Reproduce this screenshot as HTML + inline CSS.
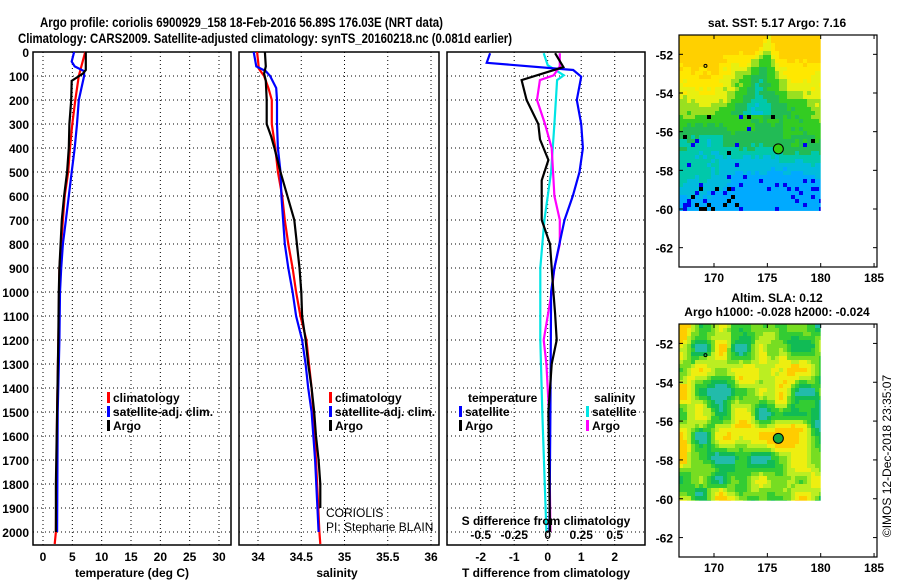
<!DOCTYPE html>
<html><head><meta charset="utf-8"><style>
html,body{margin:0;padding:0;background:#fff;}
svg{display:block;font-family:"Liberation Sans",sans-serif;}
</style></head><body>
<svg id="chart" width="900" height="580" viewBox="0 0 900 580" xmlns="http://www.w3.org/2000/svg">
<text x="40" y="27" font-size="14" font-weight="bold" textLength="403" lengthAdjust="spacingAndGlyphs">Argo profile: coriolis 6900929_158 18-Feb-2016 56.89S 176.03E (NRT data)</text>
<text x="18" y="43" font-size="14" font-weight="bold" textLength="494" lengthAdjust="spacingAndGlyphs">Climatology: CARS2009. Satellite-adjusted climatology: synTS_20160218.nc (0.081d earlier)</text>
<g id="plots"></g>
</svg>
<script>
// ---------- data ----------
const depthTicks = [0,100,200,300,400,500,600,700,800,900,1000,1100,1200,1300,1400,1500,1600,1700,1800,1900,2000];
const tempTicks = [0,5,10,15,20,25,30];
const salTicks = [34,34.5,35,35.5,36];
const tdiffTicks = [-2,-1,0,1,2];
const sdiffTickLabels = ["-0.5","-0.25","0","0.25","0.5"];
const sdiffTicks = [-0.5,-0.25,0,0.25,0.5];

const tArgoDepth = [0,75,90,120,200,300,400,500,600,700,800,900,1000,1200,1500,1800,2000];
const tArgoVal   = [7.3,7.3,6.8,4.9,4.8,4.5,4.4,4.1,3.6,3.2,3.0,2.8,2.7,2.6,2.4,2.2,2.2];
const tClimDepth = [0,100,200,300,400,500,600,700,800,900,1100,1500,2000,2050];
const tClimVal   = [7.2,6.1,5.5,5.0,4.6,4.3,3.7,3.4,3.1,2.8,2.7,2.4,2.2,2.0];
const tSatDepth  = [0,40,60,80,100,200,300,400,500,600,700,800,900,1000,1200,1500,2000];
const tSatVal    = [5.3,4.9,5.4,7.0,7.0,6.1,5.8,5.4,4.9,4.4,3.9,3.4,3.1,2.9,2.8,2.5,2.4];

const sArgoDepth = [0,60,90,120,200,300,350,400,500,600,700,800,900,1000,1100,1200,1300,1400,1500,1600,1700,1800,1900];
const sArgoVal   = [34.08,34.09,34.07,34.09,34.10,34.10,34.15,34.19,34.26,34.34,34.42,34.45,34.48,34.50,34.51,34.55,34.58,34.62,34.65,34.67,34.70,34.72,34.72];
const sClimDepth = [0,70,100,150,200,300,400,500,600,700,800,900,1000,1100,1200,1300,1400,1500,1700,2000,2050];
const sClimVal   = [33.99,34.01,34.07,34.12,34.16,34.16,34.20,34.23,34.28,34.31,34.35,34.40,34.44,34.49,34.56,34.59,34.62,34.64,34.67,34.71,34.72];
const sSatDepth  = [0,60,80,100,150,200,300,400,500,600,700,800,900,1000,1100,1200,1300,1400,1500,1700,2000];
const sSatVal    = [33.95,33.98,34.09,34.14,34.21,34.22,34.22,34.23,34.26,34.27,34.29,34.31,34.35,34.40,34.44,34.51,34.55,34.58,34.62,34.66,34.70];

const dTSatDepth = [5,45,75,103,200,300,400,500,600,700,800,900,1000,1500,2000];
const dTSatVal   = [-1.72,-1.82,0.76,1.0,0.87,1.0,1.05,0.95,0.75,0.5,0.35,0.2,0.1,0.08,0.05];
const dTArgoDepth = [5,63,117,200,300,364,450,535,700,800,1000,1090,1200,1300,1500,2000];
const dTArgoVal   = [0.22,0.47,-0.78,-0.63,-0.28,-0.23,0.02,-0.18,-0.18,0.07,0.17,0.22,0.27,0.12,0.02,0.07];
const dSSatDepth = [5,55,97,117,300,500,700,900,1200,1500,2000];
const dSSatVal   = [-0.03,0.0,0.12,0.07,0.05,0.025,-0.025,-0.055,-0.055,-0.04,-0.01];
const dSArgoDepth = [5,60,97,117,200,300,400,600,700,800,900,1000,1200,1300,1500,2000];
const dSArgoVal   = [0.09,0.09,0.045,-0.058,-0.08,-0.02,0.03,0.05,0.09,0.09,0.05,0.03,-0.03,-0.01,0.01,0.02];

const latTicks = [-52,-54,-56,-58,-60,-62];
const lonTicks = [170,175,180,185];
const argoLon = 176.03, argoLat = -56.89;

// ---------- helpers ----------
const NS="http://www.w3.org/2000/svg";
const root=document.getElementById('plots');
function mk(tag,attrs,parent,txt){const e=document.createElementNS(NS,tag);for(const k in attrs)e.setAttribute(k,attrs[k]);if(txt!==undefined)e.textContent=txt;(parent||root).appendChild(e);return e;}
const yD = d => 52 + d*0.24;
const P1={l:33,r:231,xs:v=>43+v*(176/30)};
const P2={l:239,r:439,xs:v=>258+(v-34)*86.5};
const P3={l:447,r:645,xs:v=>547.7+v*33.5};
const sdX = v => P3.xs(v*4);
const TOP=52,BOT=545;

function panel(P,ticks,xf,name){
  const g=mk('g',{});
  
  
  depthTicks.forEach(d=>{const y=yD(d);
    const l=mk('line',{x1:P.l,x2:P.r,y1:y,y2:y,stroke:'#000','stroke-width':1,'stroke-dasharray':'1,3'},g);
    
    
  });
  ticks.forEach(t=>{const x=xf(t);
    const l=mk('line',{x1:x,x2:x,y1:TOP,y2:BOT,stroke:'#000','stroke-width':1,'stroke-dasharray':'1,3'},g);
    
    
  });
  const r=mk('rect',{x:P.l,y:TOP,width:P.r-P.l,height:BOT-TOP,fill:'none',stroke:'#000','stroke-width':1.5},g);
  
  
  return g;
}
function line(depths,vals,xf,color,name,g){
  const pts=depths.map((d,i)=>xf(vals[i]).toFixed(1)+','+yD(d).toFixed(1)).join(' ');
  const p=mk('polyline',{points:pts,fill:'none',stroke:color,'stroke-width':2.2},g);
  
  
}
function txt(x,y,s,opts,name){
  const t=mk('text',Object.assign({x:x,y:y,'font-size':12,'font-weight':'bold'},opts||{}),root,s);
  
  
  return t;
}
function legend(x,y,color,label,name){
  const m=mk('rect',{x:x,y:y-10,width:3,height:11,fill:color});
  
  
  txt(x+6,y,label,{},name);
}

// ---------- panel 1 temperature ----------
const g1=panel(P1,tempTicks,P1.xs,'temperature-panel');
line(tClimDepth,tClimVal,P1.xs,'#ff0000','temp-climatology-line',g1);
line(tSatDepth,tSatVal,P1.xs,'#0000ff','temp-satellite-line',g1);
line(tArgoDepth,tArgoVal,P1.xs,'#000000','temp-argo-line',g1);
depthTicks.forEach(d=>txt(29,yD(d)+5,String(d),{'text-anchor':'end'},'depth-tick-label'));
tempTicks.forEach(t=>txt(P1.xs(t),561,String(t),{'text-anchor':'middle'},'temp-tick-label'));
txt(132,577,'temperature (deg C)',{'text-anchor':'middle'},'temperature-axis-title');
legend(107,402,'#ff0000','climatology','legend-climatology');
legend(107,416,'#0000ff','satellite-adj. clim.','legend-satellite-adj');
legend(107,430,'#000000','Argo','legend-argo');

// ---------- panel 2 salinity ----------
const g2=panel(P2,salTicks,P2.xs,'salinity-panel');
line(sClimDepth,sClimVal,P2.xs,'#ff0000','sal-climatology-line',g2);
line(sSatDepth,sSatVal,P2.xs,'#0000ff','sal-satellite-line',g2);
line(sArgoDepth,sArgoVal,P2.xs,'#000000','sal-argo-line',g2);
salTicks.forEach(t=>txt(P2.xs(t),561,String(t),{'text-anchor':'middle'},'sal-tick-label'));
txt(337,577,'salinity',{'text-anchor':'middle'},'salinity-axis-title');
legend(329,402,'#ff0000','climatology','legend-sal-climatology');
legend(329,416,'#0000ff','satellite-adj. clim.','legend-sal-satellite-adj');
legend(329,430,'#000000','Argo','legend-sal-argo');
txt(326,517,'CORIOLIS',{'font-weight':'normal','font-size':12},'data-centre-label');
txt(326,531,'PI: Stephane BLAIN',{'font-weight':'normal','font-size':12},'pi-label');

// ---------- panel 3 differences ----------
const g3=panel(P3,tdiffTicks,P3.xs,'difference-panel');
line(dSSatDepth,dSSatVal,sdX,'#00e5e5','sdiff-satellite-line',g3);
line(dSArgoDepth,dSArgoVal,sdX,'#ff00ff','sdiff-argo-line',g3);
line(dTSatDepth,dTSatVal,P3.xs,'#0000ff','tdiff-satellite-line',g3);
line(dTArgoDepth,dTArgoVal,P3.xs,'#000000','tdiff-argo-line',g3);
tdiffTicks.forEach(t=>txt(P3.xs(t),561,String(t),{'text-anchor':'middle'},'tdiff-tick-label'));
txt(546,577,'T difference from climatology',{'text-anchor':'middle'},'tdiff-axis-title');
txt(546,525,'S difference from climatology',{'text-anchor':'middle'},'sdiff-axis-title');
sdiffTicks.forEach((t,i)=>txt(sdX(t),539,sdiffTickLabels[i],{'text-anchor':'middle'},'sdiff-tick-label'));
txt(468,402,'temperature',{},'legend-temperature-heading');
txt(594,402,'salinity',{},'legend-salinity-heading');
legend(459,416,'#0000ff','satellite','legend-tdiff-satellite');
legend(459,430,'#000000','Argo','legend-tdiff-argo');
legend(586,416,'#00e5e5','satellite','legend-sdiff-satellite');
legend(586,430,'#ff00ff','Argo','legend-sdiff-argo');

// ---------- maps ----------
function hash(i,j,s){let h=(i*374761393+j*668265263+s*982451653)|0;h=(h^(h>>>13))*1274126177|0;h=h^(h>>>16);return ((h>>>0)%1000)/1000;}
function noise(x,y,s){const i=Math.floor(x),j=Math.floor(y),fx=x-i,fy=y-j;
  const u=fx*fx*(3-2*fx),v=fy*fy*(3-2*fy);
  const a=hash(i,j,s),b=hash(i+1,j,s),c=hash(i,j+1,s),d=hash(i+1,j+1,s);
  return a+(b-a)*u+(c-a)*v+(a-b-c+d)*u*v;}
function map(top,bot,latTop,kind,name){
  const L=679,R=877;
  const xs=lon=>714+(lon-170)*10.67;
  const ys=lat=>top+(latTop-lat)*((bot-top)/(latTop+63));
  const g=mk('g',{});
  
  
  const x0=L,x1=xs(180),y0=top,y1=ys(-60.1);
  const cs=4;
  for(let j=0;y0+j*cs<y1;j++)for(let i=0;x0+i*cs<x1;i++){
    const fy=j*cs/(y1-y0), fx=i*cs/(x1-x0);
    let c;
    const r=hash(i,j,7);
    if(kind==='sst'){
      let t=fy+0.22*(noise(fx*5,fy*5,3)-0.5)+0.08*(r-0.5);
      const cx=0.62-0.25*fy, w=0.04+0.5*fy;
      if(fy<0.45&&Math.abs(fx-cx)<w) t+=0.3*(1-Math.abs(fx-cx)/w);
      if(fx>0.75&&fy<0.35) t-=0.05;
      c=t<0.12?'#ffd000':t<0.22?'#ffe800':t<0.3?'#e8f010':t<0.38?'#99e020':t<0.5?'#33cc22':t<0.62?'#22bb55':t<0.72?'#00c8aa':t<0.85?'#00bbdd':'#00aaff';
      if(fy>0.78&&r<0.08)c='#0000ee';
      if(fy>0.85&&fx<0.4&&r<0.25)c=r<0.12?'#000000':'#0000ee';
      if(fy>0.45&&fy<0.75&&r<0.03)c=r<0.015?'#000000':'#0000ee';
    }else{
      const v=noise(fx*7,fy*8,5)*0.75+noise(fx*14,fy*16,9)*0.25+0.04*(r-0.5);
      c=v>0.72?'#ffcc00':v>0.6?'#eeee10':v>0.5?'#bbee22':v>0.4?'#77dd22':v>0.3?'#33cc33':v>0.2?'#11bb55':'#22bbaa';
    }
    mk('rect',{x:x0+i*cs,y:y0+j*cs,width:Math.min(cs,x1-x0-i*cs),height:Math.min(cs,y1-y0-j*cs),fill:c},g);
  }
  const fr=mk('rect',{x:L,y:top,width:R-L,height:bot-top,fill:'none',stroke:'#000','stroke-width':1.2},g);
  
  
  latTicks.forEach(t=>{const y=ys(t);
    mk('line',{x1:L,x2:L+4,y1:y,y2:y,stroke:'#000'},g);mk('line',{x1:R-4,x2:R,y1:y,y2:y,stroke:'#000'},g);
    txt(673,y+5,String(t),{'text-anchor':'end'},'lat-tick-label');});
  lonTicks.forEach(t=>{const x=xs(t);
    mk('line',{x1:x,x2:x,y1:top,y2:top+4,stroke:'#000'},g);mk('line',{x1:x,x2:x,y1:bot-4,y2:bot,stroke:'#000'},g);
    txt(x,bot+15,String(t),{'text-anchor':'middle'},'lon-tick-label');});
  const m=mk('circle',{cx:xs(argoLon),cy:ys(argoLat),r:5,fill:kind==='sst'?'#33cc11':'#11aa44',stroke:'#000','stroke-width':1},g);
  
  
  mk('circle',{cx:xs(169.2),cy:ys(-52.6),r:1.5,fill:'none',stroke:'#000'},g);
}
map(35,267,-51,'sst','sst-map');
map(324,557,-51,'sla','sla-map');
txt(777,27,'sat. SST: 5.17 Argo: 7.16',{'text-anchor':'middle'},'sst-map-title');
txt(777,302,'Altim. SLA: 0.12',{'text-anchor':'middle'},'sla-map-title');
txt(777,316,'Argo h1000: -0.028 h2000: -0.024',{'text-anchor':'middle'},'sla-map-subtitle');
txt(0,0,'\u00A9IMOS 12-Dec-2018 23:35:07',{'font-weight':'normal','text-anchor':'middle',transform:'translate(891,456) rotate(-90)'},'copyright-label');
</script>
</body></html>
